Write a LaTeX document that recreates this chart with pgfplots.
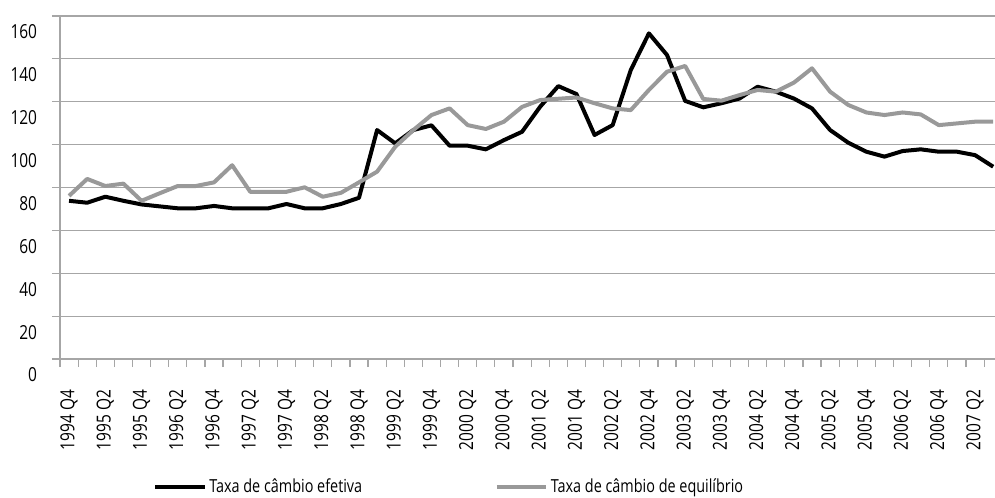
\documentclass[border=0pt]{standalone}
\usepackage{pgfplots}
\pgfplotsset{compat=1.18}
\usepackage{fontspec}
\setmainfont{Open Sans}[FakeStretch=0.8]
\definecolor{gridgray}{HTML}{A6A6A6}
\definecolor{seriesgray}{HTML}{999999}

\pgfplotstableread{
i efetiva equil
0 73.8 76.1
1 72.9 84.0
2 75.7 80.7
3 73.8 81.8
4 72.1 73.8
5 71.2 77.3
6 70.3 80.7
7 70.3 80.7
8 71.4 82.4
9 70.3 90.4
10 70.3 78.0
11 70.3 78.0
12 72.3 78.0
13 70.3 80.1
14 70.3 75.7
15 72.3 77.5
16 75.2 82.4
17 106.8 87.4
18 100.6 99.0
19 106.8 106.8
20 109.0 113.8
21 99.5 116.9
22 99.5 109.1
23 97.8 107.3
24 102.1 110.7
25 106.0 117.6
26 117.7 120.8
27 127.3 121.4
28 123.6 122.0
29 104.5 119.3
30 109.1 116.9
31 134.8 116.1
32 151.9 125.5
33 141.8 134.0
34 120.4 136.7
35 117.4 121.3
36 119.3 120.5
37 121.5 123.1
38 127.0 125.5
39 124.7 124.7
40 121.5 128.9
41 116.9 135.6
42 106.8 124.7
43 100.9 118.5
44 96.7 115.0
45 94.4 113.8
46 97.0 115.0
47 97.8 114.1
48 96.7 109.1
49 96.7 109.9
50 95.1 110.7
51 89.7 110.7
}\datatable

\begin{document}
\begin{tikzpicture}
\begin{axis}[
  at={(0pt,0pt)}, anchor=south west,
  scale only axis,
  width=701.25pt, height=257.25pt,
  xmin=-0.5, xmax=51.1, ymin=0, ymax=160,
  axis x line=bottom, axis y line=left,
  axis line style={gridgray, line width=0.9pt, -},
  ytick={0,20,...,160},
  ymajorgrids, grid style={gridgray, line width=0.9pt},
  tick align=outside, major tick length=6pt,
  tick style={gridgray, line width=0.9pt},
  xtick={-0.5,0.5,...,50.5}, xticklabels={},
  extra x ticks={0,2,...,50},
  extra x tick labels={1994 Q4,1995 Q2,1995 Q4,1996 Q2,1996 Q4,1997 Q2,1997 Q4,1998 Q2,1998 Q4,1999 Q2,1999 Q4,2000 Q2,2000 Q4,2001 Q2,2001 Q4,2002 Q2,2002 Q4,2003 Q2,2003 Q4,2004 Q2,2004 Q4,2005 Q2,2005 Q4,2006 Q2,2006 Q4,2007 Q2},
  extra x tick style={major tick length=0pt, tick label style={rotate=90, anchor=east, inner sep=0pt}},
  xticklabel shift=23pt,
  yticklabel style={anchor=east, yshift=-12pt, inner sep=0pt},
  yticklabel shift=11pt,
  every tick label/.append style={font=\fontsize{14.5}{17}\selectfont, text=black},
  /pgf/number format/assume math mode=true,
  legend columns=2,
  legend style={draw=none, fill=none, at={(axis description cs:0.0995,-0.372)}, anchor=west,
    font=\fontsize{13.5}{16}\selectfont, inner sep=0pt,
    /tikz/every even column/.append style={column sep=97.5pt}},
  legend image code/.code={\draw[#1] (0pt,0pt) -- (37pt,0pt);},
]
\addplot[black, line width=3pt, line join=round] table[x=i, y=efetiva] {\datatable};
\addlegendentry{Taxa de câmbio efetiva}
\addplot[seriesgray, line width=3pt, line join=round] table[x=i, y=equil] {\datatable};
\addlegendentry{Taxa de câmbio de equilíbrio}
\end{axis}
\pgfresetboundingbox
\useasboundingbox (-45pt,-103.5pt) rectangle (701.25pt,269.25pt);
\end{tikzpicture}
\end{document}
